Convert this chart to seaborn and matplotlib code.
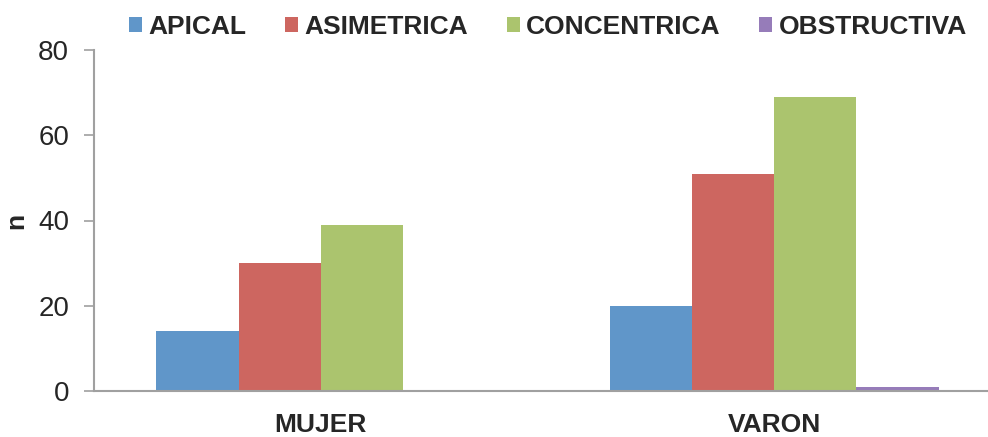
import matplotlib
matplotlib.use("Agg")
import matplotlib.pyplot as plt
import seaborn as sns
import pandas as pd

categories = ["MUJER", "VARON"]
series = ["APICAL", "ASIMETRICA", "CONCENTRICA", "OBSTRUCTIVA"]
apical = [14, 20]
asimetrica = [30, 51]
concentrica = [39, 69]
obstructiva = [0, 1]
colors = ["#6096C9", "#CD6660", "#ABC46E", "#967CB9"]

rows = []
for s, vals in zip(series, [apical, asimetrica, concentrica, obstructiva]):
    for c, v in zip(categories, vals):
        rows.append({"cat": c, "serie": s, "n": v})
df = pd.DataFrame(rows)

sns.set_theme(style="white")
plt.rcParams["font.family"] = ["Liberation Sans", "DejaVu Sans"]

fig = plt.figure(figsize=(9.88, 4.37), dpi=100)
ax = fig.add_axes([94 / 988, 1 - 391 / 437, (1001 - 94) / 988, (391 - 50) / 437])
sns.barplot(data=df, x="cat", y="n", hue="serie", order=categories, hue_order=series,
            palette=colors, width=0.725, gap=0, saturation=1, ax=ax, legend=False,
            edgecolor="none", linewidth=0)

ax.set_xlim(-0.5, 1.5)
ax.set_ylim(0, 80)
ax.set_yticks([0, 20, 40, 60, 80])
ax.tick_params(axis="y", labelsize=20, length=7, width=1.2, color="#A0A0A0", direction="out", left=True, pad=11)
ax.tick_params(axis="x", labelsize=19, length=0, pad=16)
for lab in ax.get_xticklabels():
    lab.set_fontweight("bold")
ax.set_xlabel("")
ax.set_ylabel("n", fontsize=19, fontweight="bold")
ax.yaxis.set_label_coords(-0.072, 0.5)
for side in ["top", "right"]:
    ax.spines[side].set_visible(False)
for side in ["left", "bottom"]:
    ax.spines[side].set_color("#A0A0A0")
    ax.spines[side].set_linewidth(1.5)

from matplotlib.patches import Patch
handles = [Patch(facecolor=c, edgecolor="none") for c in colors]
fig.legend(handles, series, ncol=4, loc="center", bbox_to_anchor=(548 / 988, 1 - 27 / 437),
           frameon=False, prop={"size": 19, "weight": "bold"}, handlelength=0.5, handleheight=0.5,
           handletextpad=0.25, columnspacing=1.45)

fig.savefig("out.png", dpi=100)
